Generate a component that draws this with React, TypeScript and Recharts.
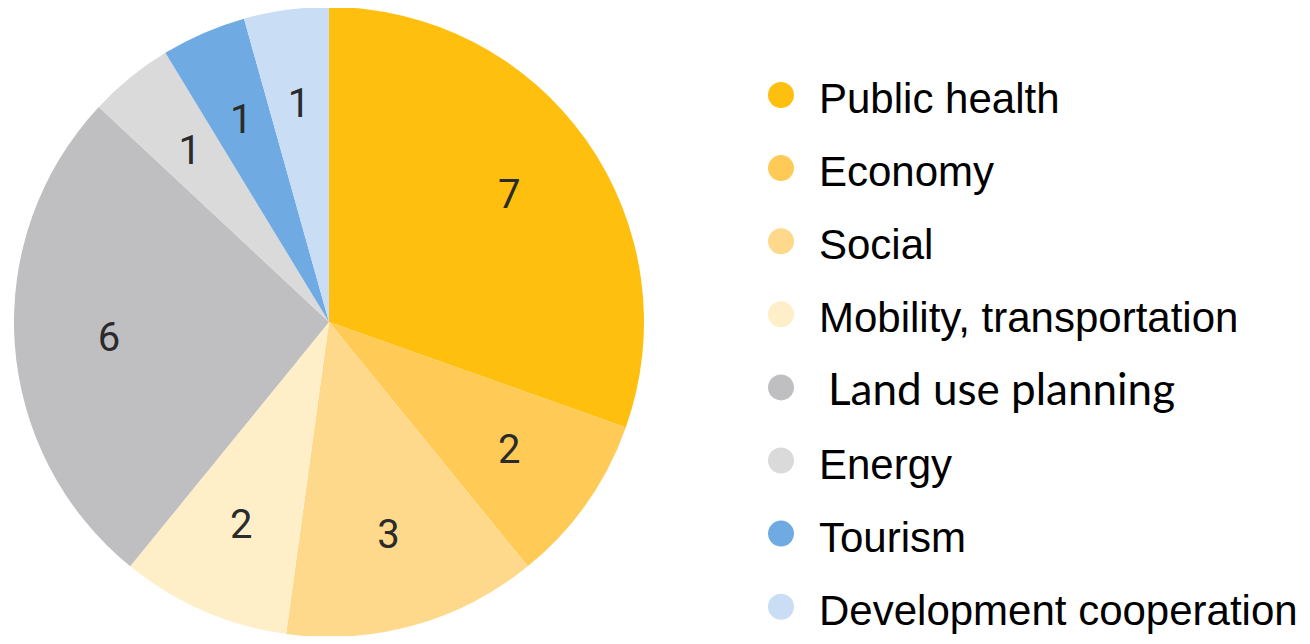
import { Legend, Pie, PieChart, Cell } from 'recharts'

const categories = [
  'Public health',
  'Economy',
  'Social',
  'Mobility, transportation',
  'Land use planning',
  'Energy',
  'Tourism',
  'Development cooperation',
]
const counts = [7, 2, 3, 2, 6, 1, 1, 1]
const colors = ['#FFBF0F', '#FFCA55', '#FED98C', '#FEEFC8', '#BFBFC2', '#DADADA', '#6FABE2', '#C9DDF4']

const data = categories.map((name, i) => ({ name, value: counts[i] }))

const RAD = Math.PI / 180

function SliceLabel(props: any) {
  const { cx, cy, midAngle, outerRadius, value } = props
  const r = outerRadius * 0.7
  const x = cx + r * Math.cos(-midAngle * RAD)
  const y = cy + r * Math.sin(-midAngle * RAD)
  return (
    <text
      x={x}
      y={y}
      fill="#2b2b2b"
      fontFamily="Roboto, sans-serif"
      fontSize={40}
      textAnchor="middle"
      dominantBaseline="central"
    >
      {value}
    </text>
  )
}

function SideLegend() {
  return (
    <svg width={544} height={628}>
      {categories.map((name, i) => {
        const baseline = 105 + i * 73.1
        const calibriLike = name === 'Land use planning'
        return (
          <g key={name}>
            <circle cx={23} cy={baseline - 18} r={13} fill={colors[i]} />
            <text
              x={calibriLike ? 70 : 61}
              y={baseline}
              fill="#000"
              fontFamily={calibriLike ? 'Lato, sans-serif' : '"Liberation Sans", Arial, sans-serif'}
              fontSize={calibriLike ? 44 : 42}
            >
              {name}
            </text>
          </g>
        )
      })}
    </svg>
  )
}

export default function App() {
  return (
    <div style={{ width: 1294, height: 628, background: '#fff' }}>
      <PieChart width={1294} height={628} margin={{ top: 0, right: 0, bottom: 0, left: 0 }}>
        <Pie
          data={data}
          dataKey="value"
          nameKey="name"
          cx={321}
          cy={314}
          outerRadius={315}
          startAngle={90}
          endAngle={-270}
          stroke="none"
          label={SliceLabel}
          labelLine={false}
          isAnimationActive={false}
        >
          {data.map((d, i) => (
            <Cell key={d.name} fill={colors[i]} />
          ))}
        </Pie>
        <Legend
          content={SideLegend}
          wrapperStyle={{ position: 'absolute', left: 750, top: 0, width: 544, height: 628 }}
        />
      </PieChart>
    </div>
  )
}
